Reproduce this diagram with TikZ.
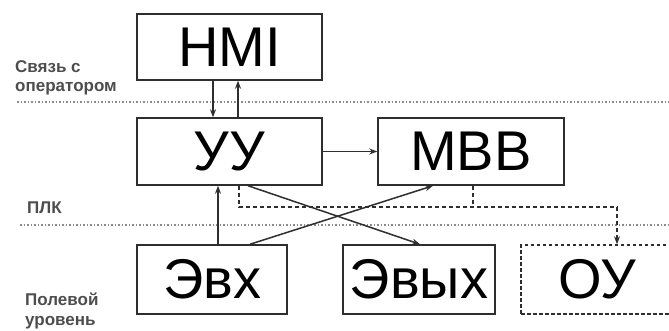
\documentclass[tikz,border=0pt]{standalone}
\usepackage{fontspec}
\setmainfont{Liberation Sans}
\usetikzlibrary{arrows.meta,calc}
\definecolor{edge}{HTML}{2E2E2E}
\definecolor{levelline}{HTML}{8A8A8A}
\begin{document}
\begin{tikzpicture}[x=1pt,y=-1pt,
  block/.style={draw=edge,line width=1.5pt,inner sep=0pt,
    font=\fontsize{56}{56}\selectfont},
  ghost/.style={block,dash pattern=on 3.5pt off 2.5pt},
  level/.style={draw=levelline,line width=1.2pt,dash pattern=on 1.5pt off 2pt},
  tag/.style={anchor=base west,text=edge!85!white,inner sep=0pt,
    font=\fontsize{17}{20}\selectfont\bfseries},
  tip/.style={-{Stealth[length=8pt,width=6pt]}},
  link/.style={draw=edge,line width=1.5pt,tip},
  ctrl/.style={draw=edge,line width=1.5pt,dash pattern=on 4pt off 3pt}]
\useasboundingbox (0,0) rectangle (669,331);
\clip (0,0) rectangle (669,331);

% level separators
\draw[level] (17,102) -- (669,102);
\draw[level] (20,225) -- (669,225);

% level captions
\node[tag] (opcapa) at (15,73) {Связь с};
\node[tag] (opcapb) at (15,92) {оператором};
\node[tag] (plccap) at (27,214) {ПЛК};
\node[tag] (fieldcapa) at (25,305) {Полевой};
\node[tag] (fieldcapb) at (25,325) {уровень};

% blocks
\node[block,minimum width=185,minimum height=66] (hmi) at (229.5,47) {HMI};
\node[block,minimum width=185,minimum height=67] (uu) at (229.5,151.5) {УУ};
\node[block,minimum width=186,minimum height=67] (mvv) at (471,151.5) {МВВ};
\node[block,minimum width=150,minimum height=69] (evx) at (212,279.5) {Эвх};
\node[block,minimum width=152,minimum height=69] (evyx) at (419,279.5) {Эвых};
\node[ghost,minimum width=152,minimum height=69] (ou) at (597,279.5) {ОУ};

% operator link
\draw[link] ([xshift=-16.5]hmi.south) -- ([xshift=-16.5]uu.north);
\draw[link] ([xshift=8.5]uu.north) -- ([xshift=8.5]hmi.south);

% controller to I/O module
\draw[link] (uu.east) -- (mvv.west);

% field signals
\draw[link] ([xshift=6]evx.north) -- ([xshift=-11.5]uu.south);
\draw[link] ([xshift=18.5]uu.south) -- ([xshift=1]evyx.north);
\draw[link] ([xshift=38]evx.north) -- ([xshift=-38]mvv.south);

% control bus to the plant
\coordinate (bus) at (0,207);
\coordinate (ouin) at ([xshift=20]ou.north);
\coordinate (drop) at ($(ouin |- bus)$);
\draw[ctrl] ([xshift=9.5]uu.south) -- ([xshift=9.5]uu.south |- bus) -- (drop);
\draw[ctrl] ([xshift=2]mvv.south) -- ([xshift=2]mvv.south |- bus);
\draw[ctrl,tip] (drop) -- (ouin);
\end{tikzpicture}
\end{document}
